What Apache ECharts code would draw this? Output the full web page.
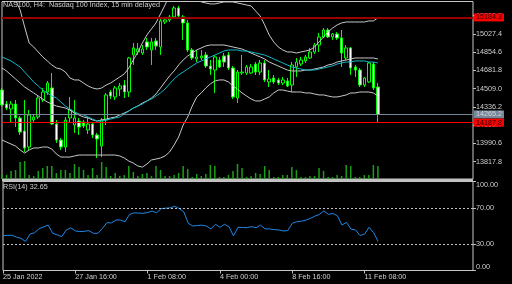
<!DOCTYPE html>
<html><head><meta charset="utf-8">
<script src="https://cdn.jsdelivr.net/npm/echarts@6/dist/echarts.min.js"></script>
<style>html,body{margin:0;padding:0;background:#000;}#c{width:512px;height:284px;}</style>
</head><body><div id="c"></div>
<script>
const chartTitle = 'NAS100, H4:  Nasdaq 100 Index, 15 min delayed';
const rsiTitle = 'RSI(14) 32.65';
const timeLabels = ['25 Jan 2022', '27 Jan 16:00', '1 Feb 08:00', '4 Feb 00:00', '8 Feb 16:00', '11 Feb 08:00'];
const timeLabelBars = [0, 16, 32, 48, 64, 80];
const priceTicks = [13817.8, 13990.6, 14163.4, 14336.2, 14509.0, 14681.8, 14854.6, 15027.4, 15200.2];
const rsiTicks = [0, 30, 70, 100];
const rsiLevels = [70, 30];
const resistance = 15184.3;
const support = 14187.8;
const bid = 14265.2;

const opens = [14497,14364,14317,14364,14232,14109,13957,14213,14241,14402,
 14478,14516,14175,14023,13957,14232,14165,14203,14194,14118,
 14175,14071,13966,14213,14478,14431,14506,14544,14478,14829,
 14857,14847,14952,14876,14961,14904,15141,15160,15189,15274,
 15189,15132,14876,14791,14800,14829,14724,14686,14781,14819,
 14829,14705,14421,14658,14658,14658,14743,14667,14753,14573,
 14611,14592,14563,14582,14544,14715,14743,14772,14800,14857,
 14923,14999,15065,14999,15027,14990,14800,14895,14715,14686,
 14544,14573,14743,14525];
const closes = [14355,14326,14364,14232,14099,13948,14260,14241,14421,14478,
 14563,14175,14023,13957,14213,14308,14232,14146,14156,14175,
 14071,14033,14213,14450,14440,14516,14535,14478,14800,14895,
 14885,14885,14904,14952,14914,15151,15160,15189,15274,15198,
 15132,14876,14800,14810,14819,14724,14696,14810,14715,14762,
 14705,14431,14667,14667,14715,14715,14667,14753,14592,14601,
 14573,14563,14592,14535,14734,14762,14781,14810,14857,14923,
 14999,15065,14999,15027,14990,14847,14895,14705,14686,14544,
 14611,14753,14516,14265.2];
const lows = [14336,14307,14184,14146,14071,13910,13929,14194,14222,14383,
 14450,14165,13995,13929,13910,14194,14090,14071,14137,14080,
 14042,13853,13862,14165,14412,14402,14440,14421,14431,14734,
 14829,14829,14876,14734,14876,14829,15122,15141,15179,15170,
 14971,14857,14781,14762,14781,14705,14639,14469,14705,14715,
 14686,14412,14374,14639,14639,14649,14639,14639,14573,14525,
 14554,14544,14544,14525,14478,14620,14724,14753,14791,14838,
 14857,14990,14990,14971,14971,14715,14781,14639,14620,14525,
 14525,14563,14497,14194];
const highs = [14516,14393,14393,14402,14251,14402,14308,14260,14440,14516,
 14582,14658,14213,14042,14241,14431,14402,14232,14213,14232,
 14194,14090,14232,14469,14497,14535,14563,14592,14810,14942,
 14942,14923,14990,14990,14990,15170,15179,15207,15293,15293,
 15207,15160,14895,14876,14876,14857,14781,14829,14810,14847,
 14857,14724,14686,14829,14734,14743,14762,14781,14781,14686,
 14639,14611,14620,14611,14762,14800,14810,14829,14895,14942,
 15037,15084,15084,15037,15046,15065,14923,14904,14734,14705,
 14620,14762,14762,14563];
const bandUpper = [15463,15444,15416,15350,15255,15094,14942,14904,14857,14810,
 14772,14734,14705,14696,14667,14611,14592,14592,14563,14535,
 14516,14506,14516,14544,14563,14592,14620,14649,14705,14781,
 14857,14942,15018,15075,15132,15217,15302,15397,15463,15501,
 15492,15444,15387,15359,15331,15321,15312,15312,15321,15331,
 15331,15331,15321,15312,15302,15293,15245,15198,15113,15018,
 14952,14904,14876,14857,14857,14847,14857,14866,14876,14904,
 14952,14999,15046,15084,15113,15132,15141,15141,15141,15141,
 15141,15151,15151,15179];
const bandMiddle = [14705,14677,14639,14601,14563,14525,14497,14469,14440,14412,
 14383,14364,14345,14336,14326,14307,14279,14260,14241,14232,
 14213,14203,14213,14222,14232,14241,14260,14279,14298,14326,
 14345,14374,14393,14421,14459,14516,14573,14630,14677,14734,
 14781,14819,14847,14876,14895,14914,14923,14923,14923,14923,
 14914,14904,14895,14885,14866,14847,14828,14810,14791,14762,
 14743,14724,14705,14686,14677,14677,14677,14686,14686,14696,
 14705,14715,14734,14743,14762,14772,14781,14791,14800,14800,
 14800,14800,14800,14791];
const bandLower = [14023,14004,13985,13966,13929,13900,13929,13948,13948,13957,
 13957,13938,13891,13862,13862,13862,13872,13881,13881,13881,
 13881,13881,13881,13881,13881,13881,13872,13853,13824,13805,
 13777,13767,13796,13834,13843,13853,13872,13910,13976,14052,
 14165,14241,14345,14431,14469,14516,14554,14582,14592,14592,
 14573,14535,14506,14469,14440,14412,14393,14393,14412,14431,
 14469,14497,14497,14487,14478,14478,14478,14469,14469,14459,
 14450,14450,14440,14431,14431,14440,14450,14469,14469,14478,
 14478,14478,14469,14440];
const maCyan = [14810,14791,14772,14743,14715,14667,14620,14573,14535,14497,
 14469,14440,14421,14383,14345,14317,14289,14270,14260,14241,
 14222,14203,14203,14213,14222,14232,14241,14270,14298,14326,
 14345,14364,14393,14412,14440,14469,14506,14554,14601,14639,
 14667,14696,14725,14753,14772,14791,14810,14828,14847,14866,
 14876,14876,14876,14866,14866,14857,14847,14838,14828,14810,
 14791,14772,14753,14734,14715,14705,14696,14686,14686,14686,
 14696,14705,14715,14725,14743,14753,14762,14762,14772,14772,
 14772,14762,14762,14753];
const volumes = [2500,2000,4000,4500,8500,9000,2000,1500,4000,5500,
 6500,6500,3000,4500,4500,3000,7500,6000,4500,2000,
 5500,2000,8500,6000,1500,3000,1500,2000,6500,3500,
 1500,2500,3000,1500,6500,4500,1500,1500,2000,3000,
 6500,5000,1000,2500,1500,2500,7000,6500,1000,1000,
 2000,4000,7500,5500,1000,1500,3000,2500,6500,4500,
 1000,1000,2000,2000,6000,4500,1000,1000,1500,1500,
 5500,4000,1000,1000,2000,1500,7000,6500,1000,1000,
 2000,2000,7000,6500];
const rsi = [39.2,39.5,39.6,37.5,36,32.6,41,42.5,47,49,
 51,41.8,40,38.1,45.5,48,44.5,43.7,44,44.8,
 41.8,41.8,47.4,53.7,53.5,56.7,56.7,54.8,63,64.8,
 64.5,64.2,65.2,66.7,64.8,69.6,70,70.4,72.2,69.6,
 65.9,53,50,50.5,51,50,46.7,51.9,48.5,51.9,
 49.3,38.9,48.5,48.3,48.1,49.3,48.1,51,46.7,46.7,
 46,45.6,44.4,44.8,53,54.8,55.4,56.5,58.5,61,
 63,67,63,64.1,61.5,51.1,54,46.5,45.6,39.3,
 41,48.5,42.5,32.65];

const SLOTS = 105;
const cats = Array.from({length: SLOTS}, (_, i) => String(i));
const candles = opens.map((o, i) => [o, closes[i], lows[i], highs[i]]);

const FONT = 'Liberation Sans';
const FS = 7.2;
const TXT = '#d0d0d0';
const GL = 2, GW = 471;

const showIdx = (i) => timeLabelBars.indexOf(i) >= 0;

const xBase = (gi, show) => ({
  type: 'category', gridIndex: gi, data: cats, boundaryGap: false,
  axisLine: {show: false}, splitLine: {show: false},
  axisTick: {show: show, interval: (i) => showIdx(i), length: 3, lineStyle: {color: '#c0c0c0'}},
  axisLabel: {show: show, interval: (i) => showIdx(i), align: 'left', margin: 3,
    color: TXT, fontSize: FS, fontFamily: FONT,
    formatter: (v, i) => { const k = timeLabelBars.indexOf(i); return k >= 0 ? timeLabels[k] : ''; }}
});

const boxLabel = (bg, fg) => ({
  show: true, position: 'end', distance: 1, backgroundColor: bg, color: fg,
  padding: [1, 2, 0, 2], fontSize: FS, fontFamily: FONT,
  formatter: (p) => Number(p.value).toFixed(1)
});

const option = {
  backgroundColor: '#000',
  animation: false,
  title: [
    {text: chartTitle, left: 3, top: 2, padding: 0, textStyle: {color: TXT, fontSize: FS, fontWeight: 'normal', fontFamily: FONT}},
    {text: rsiTitle, left: 3, top: 183.5, padding: 0, textStyle: {color: TXT, fontSize: FS, fontWeight: 'normal', fontFamily: FONT}}
  ],
  grid: [
    {left: GL, top: 1.5, width: GW, height: 177.5, show: true, borderColor: '#c8c8c8', borderWidth: 1, backgroundColor: 'transparent'},
    {left: GL, top: 159, width: GW, height: 20, show: false},
    {left: GL, top: 181.5, width: GW, height: 89, show: true, borderColor: '#c8c8c8', borderWidth: 1, backgroundColor: 'transparent'}
  ],
  graphic: [
    {type: 'rect', shape: {x: GL, y: 179, width: GW, height: 2.5}, style: {fill: '#c0c0c0'}, silent: true, z: 10}
  ],
  xAxis: [xBase(0, false), xBase(1, false), xBase(2, true)],
  yAxis: [
    {type: 'value', gridIndex: 0, min: 13654, max: 15335, position: 'right', scale: true,
     axisLine: {show: false}, splitLine: {show: false},
     axisTick: {show: true, customValues: priceTicks, length: 3, lineStyle: {color: '#c0c0c0'}},
     axisLabel: {customValues: priceTicks, color: TXT, fontSize: FS, fontFamily: FONT, margin: 3,
       formatter: (v) => Number(v).toFixed(1)}},
    {type: 'value', gridIndex: 1, min: 0, max: 10000, show: false},
    {type: 'value', gridIndex: 2, min: 0, max: 100, position: 'right',
     axisLine: {show: false}, splitLine: {show: false},
     axisTick: {show: true, customValues: rsiTicks, length: 3, lineStyle: {color: '#c0c0c0'}},
     axisLabel: {customValues: rsiTicks, color: TXT, fontSize: FS, fontFamily: FONT, margin: 3,
       verticalAlignMaxLabel: 'top', verticalAlignMinLabel: 'bottom',
       formatter: (v) => Number(v).toFixed(2)}}
  ],
  series: [
    {type: 'bar', xAxisIndex: 1, yAxisIndex: 1, data: volumes, barWidth: 1.5,
     itemStyle: {color: '#18a018'}, silent: true},
    {type: 'candlestick', xAxisIndex: 0, yAxisIndex: 0, data: candles, barWidth: 3, z: 3,
     itemStyle: {color: '#000000', color0: '#ffffff', borderColor: '#00ff00', borderColor0: '#00ff00', borderWidth: 1},
     markLine: {silent: true, symbol: 'none', animation: false,
       data: [
         {yAxis: resistance, lineStyle: {color: '#9a0000', width: 2, type: 'solid'}, label: boxLabel('#ff0000', '#200000')},
         {yAxis: bid, lineStyle: {color: '#778899', width: 1, type: 'solid'}, label: boxLabel('#778899', '#d0d8e0')},
         {yAxis: support, lineStyle: {color: '#ff0000', width: 1, type: 'solid'}, label: boxLabel('#ff0000', '#200000')}
       ]}},
    {type: 'line', xAxisIndex: 0, yAxisIndex: 0, data: bandUpper, symbol: 'none', z: 4, lineStyle: {color: '#c8c8c8', width: 1}},
    {type: 'line', xAxisIndex: 0, yAxisIndex: 0, data: bandMiddle, symbol: 'none', z: 4, lineStyle: {color: '#c8c8c8', width: 1}},
    {type: 'line', xAxisIndex: 0, yAxisIndex: 0, data: bandLower, symbol: 'none', z: 4, lineStyle: {color: '#c8c8c8', width: 1}},
    {type: 'line', xAxisIndex: 0, yAxisIndex: 0, data: maCyan, symbol: 'none', z: 4, lineStyle: {color: '#10b8c8', width: 1}},
    {type: 'line', xAxisIndex: 2, yAxisIndex: 2, data: rsi, symbol: 'none', z: 4, lineStyle: {color: '#1e88e8', width: 1},
     markLine: {silent: true, symbol: 'none', animation: false, label: {show: false},
       lineStyle: {color: '#c0c0c0', width: 1, type: [2, 2]},
       data: rsiLevels.map(v => ({yAxis: v}))}}
  ]
};
const chart = echarts.init(document.getElementById('c'), null, {renderer: 'canvas'});
chart.setOption(option);
</script>
</body></html>
